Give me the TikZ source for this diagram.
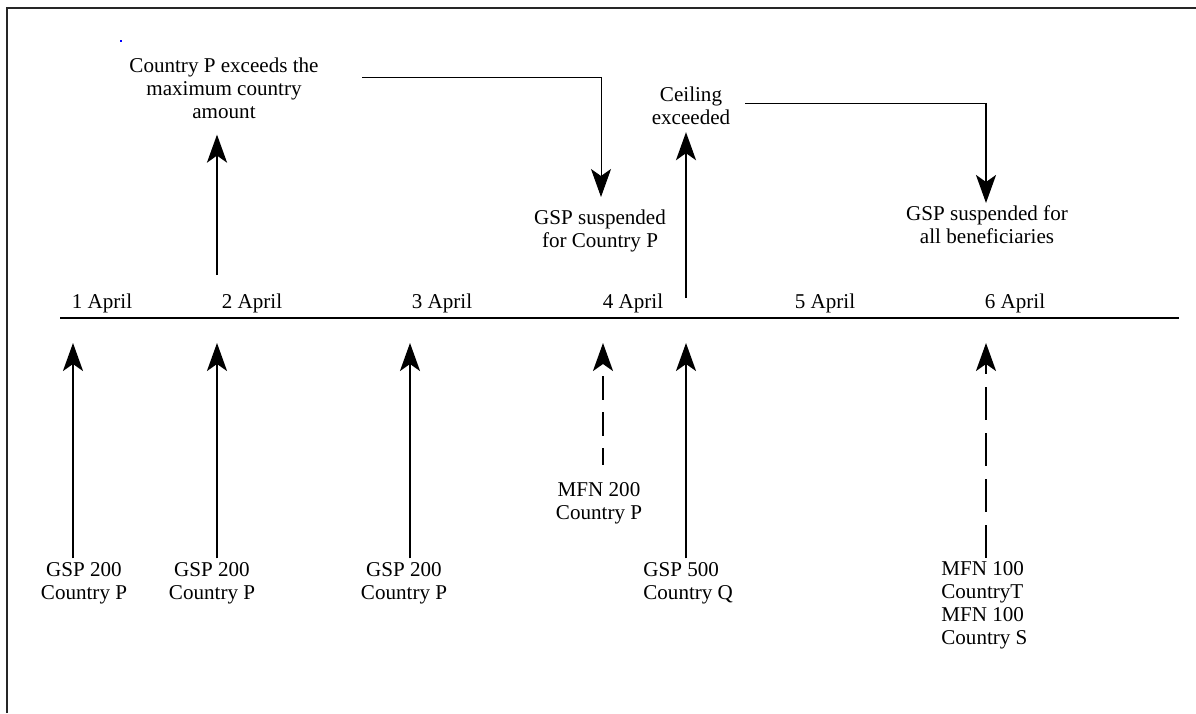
\documentclass[tikz,border=0pt]{standalone}
\usepackage{fontspec}
\setmainfont{Liberation Serif}
\usepackage{tikz}
\usetikzlibrary{arrows.meta, calc}

\begin{document}
\begin{tikzpicture}[x=0.02cm, y=-0.02cm,
  every node/.style={font=\fontsize{12}{13}\selectfont, inner sep=0pt},
  lbl/.style={align=center},
  lbll/.style={align=left, anchor=west},
  evt/.style={-{Stealth[length=5.6mm, width=4mm, inset=1.4mm]}, line width=1.3pt},
  mfn/.style={evt, dash pattern=on 0.48cm off 0.24cm, dash phase=0.14cm},
  mfnl/.style={evt, dash pattern=on 0.66cm off 0.26cm},
  link/.style={line width=0.5pt}]
\useasboundingbox (0,0) rectangle (1196,713);
\draw[line width=1.1pt, black!85] (7,713) -- (7,8) -- (1196,8);
\fill[blue] (120,40) rectangle (122,42);
% time line
\draw[line width=0.6pt] (60,318) -- (1179,318);
\node (d1) at (102,303) {1 April};
\node (d2) at (252,303) {2 April};
\node (d3) at (442,303) {3 April};
\node (d4) at (633,303) {4 April};
\node (d5) at (825,303) {5 April};
\node (d6) at (1015,303) {6 April};
% imports
\coordinate (a1) at (73,343);
\coordinate (a2) at (217,343);
\coordinate (a3) at (410,343);
\coordinate (a4) at (603,343);
\coordinate (a5) at (686,343);
\coordinate (a6) at (986,343);
\node[lbl] (gspa) at (84,583) {GSP 200\\Country P};
\node[lbl] (gspb) at (212,583) {GSP 200\\Country P};
\node[lbl] (gspc) at (404,583) {GSP 200\\Country P};
\node[lbl] (mfna) at (599,503) {MFN 200\\Country P};
\node[lbll] (gspq) at (643,583) {GSP 500\\Country Q};
\node[lbll] (mfnb) at (941,605) {MFN 100\\CountryT\\MFN 100\\Country S};
\draw[evt, shorten <=0.07cm] (gspa.north -| a1) -- (a1);
\draw[evt, shorten <=0.07cm] (gspb.north -| a2) -- (a2);
\draw[evt, shorten <=0.07cm] (gspc.north -| a3) -- (a3);
\draw[mfn] ($(mfna.north -| a4)+(0,-17)$) -- (a4);
\draw[evt, shorten <=0.07cm] (gspq.north -| a5) -- (a5);
\draw[mfnl, shorten <=0.07cm] (mfnb.north -| a6) -- (a6);
% events
\node[lbl] (exc) at (224,88) {Country P exceeds the\\maximum country\\amount};
\node[lbl] (suspp) at (600,231) {GSP suspended\\for Country P};
\node[lbl] (ceil) at (691,106) {Ceiling\\exceeded};
\node[lbl] (suspall) at (987,225) {GSP suspended for\\all beneficiaries};
\coordinate (u2) at (217,275);
\coordinate (u5) at (686,298);
\draw[evt, shorten >=0.32cm] (u2) -- (u2 |- exc.south);
\draw[evt, shorten >=0.14cm] (u5) -- (u5 |- ceil.south);
\coordinate (k1) at (362,77);
\coordinate (t1) at (601,197);
\coordinate (k2) at (745,103);
\coordinate (t2) at (986,203);
\draw[link, -{Stealth[length=5.6mm, width=4mm, inset=1.4mm]}] (k1) -| (t1);
\draw[link] (k2) -- (k2 -| t2);
\draw[evt] (k2 -| t2) -- (t2);
\end{tikzpicture}
\end{document}
